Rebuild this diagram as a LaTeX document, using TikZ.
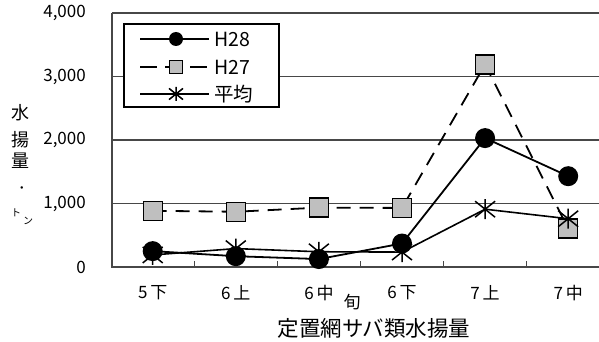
\documentclass[tikz,border=0pt]{standalone}
\usepackage{fontspec}
\setmainfont{Noto Sans CJK JP}
\usetikzlibrary{positioning}
\colorlet{gridgray}{black!72}
\colorlet{boxgray}{black!25}
\tikzset{
  dot28/.style={circle,fill=black,inner sep=0pt,minimum size=#1},
  box27/.style={rectangle,draw=black,fill=boxgray,line width=1.4pt,inner sep=0pt,minimum size=#1},
  line28/.style={black,line width=1.8pt},
  line27/.style={black,line width=1.8pt,dash pattern=on 14pt off 9pt},
  lineavg/.style={black,line width=1.6pt},
  pics/starmark/.style={code={
    \draw[black,line width=1.5pt] (0pt,-#1)--(0pt,#1) (-#1,-0.8*#1)--(#1,0.8*#1) (-#1,0.8*#1)--(#1,-0.8*#1);
  }},
  ticklab/.style={anchor=east,inner sep=0pt,font=\fontsize{17}{17}\selectfont},
  catlab/.style={inner sep=0pt,font=\fontsize{17}{17}\selectfont},
  leglab/.style={anchor=west,inner sep=0pt,font=\fontsize{19.5}{19.5}\selectfont}
}
\begin{document}
\begin{tikzpicture}[x=1pt,y=-1pt]
    \useasboundingbox (0,0) rectangle (599,342);
    % grid and axes
    \foreach \g in {1,2,3,4}{
        \draw[gridgray,line width=1.2pt] (112,267-63.5*\g) -- (599,267-63.5*\g);
    }
    \foreach \g/\t [count=\n] in {0/0,1/{1,000},2/{2,000},3/{3,000},4/{4,000}}{
        \node[ticklab] (ylab\n) at (86,267-63.5*\g) {\t};
    }
    \draw[gridgray,line width=1.2pt] (112,13) -- (112,267) -- (599,267);
    \foreach \k in {1,...,5}{
        \draw[gridgray,line width=1.2pt] (111.15+83.1*\k,267) -- (111.15+83.1*\k,261);
    }
    \foreach \c/\t [count=\n from 0] in {5/下,6/上,6/中,6/下,7/上,7/中}{
        \node[catlab] (cat\n) at (152.7+83.1*\n,293) {\c\,\t};
    }
    \node[catlab] (jun) at (352,302) {旬};
    \node[inner sep=0pt,font=\fontsize{21.5}{21.5}\selectfont] (xtitle) at (374,328) {定置網サバ類水揚量};
    % y title
    \foreach \t/\y [count=\n] in {水/113,揚/140,量/161}{
        \node[inner sep=0pt,font=\fontsize{18}{18}\selectfont] (ytitle\n) at (20,\y) {\t};
    }
    \node[inner sep=0pt,font=\fontsize{12}{12}\selectfont] (ydot) at (22,190) {・};
    \node[inner sep=0pt,font=\fontsize{10}{10}\selectfont] (yunit1) at (16,213) {ト};
    \node[inner sep=0pt,font=\fontsize{10}{10}\selectfont] (yunit2) at (28,221) {ン};
    % data
    \begin{scope}[shift={(152.7,267)},x=83.1pt,y=0.0635pt]
        \foreach \v [count=\i from 0] in {250,170,125,370,2030,1430}{
            \coordinate (a\i) at (\i,\v);
        }
        \foreach \v [count=\i from 0] in {885,870,935,930,3190,605}{
            \coordinate (b\i) at (\i,\v);
        }
        \foreach \v [count=\i from 0] in {190,290,240,235,910,760}{
            \coordinate (c\i) at (\i,\v);
        }
    \end{scope}
    \draw[line28] (a0) -- (a1) -- (a2) -- (a3) -- (a4) -- (a5);
    \foreach \i in {0,...,5}{
        \node[dot28=20pt] (m28-\i) at (a\i) {};
    }
    \draw[line27] (b0) -- (b1) -- (b2) -- (b3) -- (b4) -- (b5);
    \foreach \i in {0,...,5}{
        \node[box27=19pt] (m27-\i) at (b\i) {};
    }
    \draw[lineavg] (c0) -- (c1) -- (c2) -- (c3) -- (c4) -- (c5);
    \foreach \i in {0,...,5}{
        \pic at (c\i) {starmark=10pt};
    }
    % legend
    \draw[black,fill=white,line width=1.2pt] (124,24) rectangle (279,107);
    \coordinate (l28a) at (140,39); \coordinate (l28b) at (209,39);
    \coordinate (l27a) at (140,67); \coordinate (l27b) at (209,67);
    \coordinate (lavga) at (140,94); \coordinate (lavgb) at (209,94);
    \draw[line28] (l28a) -- (l28b);
    \draw[line27,dash pattern=on 17pt off 8pt] (l27a) -- (l27b);
    \draw[lineavg] (lavga) -- (lavgb);
    \node[dot28=14pt] (k28) at (176,39) {};
    \node[box27=13pt] (k27) at (176,67) {};
    \pic at (176,94) {starmark=7pt};
    \node[leglab] (t28) at (214,39) {H28};
    \node[leglab] (t27) at (214,67) {H27};
    \node[leglab] (tavg) at (214,94) {平均};
\end{tikzpicture}
\end{document}
